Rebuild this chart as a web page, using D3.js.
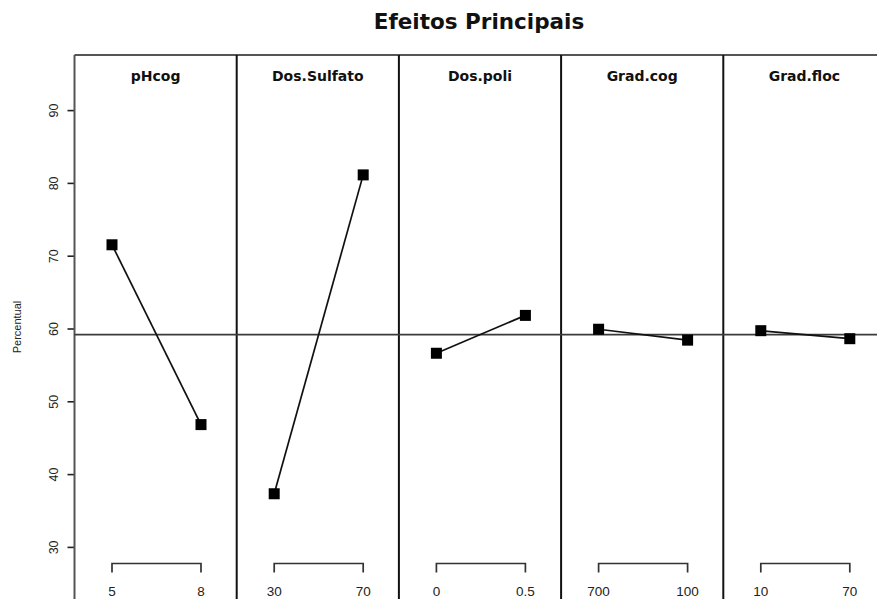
<!DOCTYPE html>
<html>
<head>
<meta charset="utf-8">
<script src="https://cdn.jsdelivr.net/npm/d3@7"></script>
<style>
  html, body { margin: 0; padding: 0; background: #fff; }
  svg { display: block; font-family: "Liberation Sans", Arial, sans-serif; }
</style>
</head>
<body>
<svg id="chart" width="877" height="599"></svg>
<script>
// ---- data ----
const factors = ["pHcog", "Dos.Sulfato", "Dos.poli", "Grad.cog", "Grad.floc"];
const levelLabels = [["5", "8"], ["30", "70"], ["0", "0.5"], ["700", "100"], ["10", "70"]];
const lowValues  = [71.5, 37.3, 56.6, 59.9, 59.7];
const highValues = [46.8, 81.1, 61.8, 58.4, 58.6];
const yTicks = [30, 40, 50, 60, 70, 80, 90];
const chartTitle = "Efeitos Principais";
const yTitle = "Percentual";

// ---- layout ----
const W = 877, H = 599;
const plotLeft = 74.5, plotTop = 55, panelW = 162.2;
const svg = d3.select("#chart");

const allVals = lowValues.concat(highValues);
const grandMean = d3.mean(allVals);

const y = d3.scaleLinear().domain([30, 90]).range([546.9, 110.1]);
const px = d3.scaleBand().domain(factors).range([plotLeft, plotLeft + panelW * factors.length]);
const lx = d3.scalePoint().domain([0, 1]).range([37.5, 126.5]);

// title
svg.append("text")
  .attr("x", 479).attr("y", 29)
  .attr("text-anchor", "middle")
  .attr("font-family", "DejaVu Sans, sans-serif")
  .attr("font-size", 21.5).attr("font-weight", "bold")
  .attr("fill", "#111")
  .text(chartTitle);

// y axis
const yAxis = d3.axisLeft(y).tickValues(yTicks).tickSize(7).tickFormat(d3.format("d"));
const ga = svg.append("g").attr("transform", `translate(${plotLeft},0)`).call(yAxis);
ga.select(".domain").remove();
ga.selectAll(".tick line").attr("stroke", "#222").attr("stroke-width", 1.6);
ga.selectAll(".tick text")
  .attr("font-size", 12.5).attr("fill", "#222")
  .attr("transform", "rotate(-90)")
  .attr("x", 0).attr("y", -21).attr("dy", "0.35em")
  .attr("text-anchor", "middle")
  .attr("font-family", "Liberation Sans, Arial, sans-serif");

svg.append("text")
  .attr("transform", `translate(21,327) rotate(-90)`)
  .attr("text-anchor", "middle")
  .attr("font-size", 11).attr("fill", "#222")
  .text(yTitle);

// panel frame
svg.append("line").attr("x1", plotLeft).attr("x2", W + 10).attr("y1", plotTop).attr("y2", plotTop)
  .attr("stroke", "#555").attr("stroke-width", 2);
svg.append("line").attr("x1", plotLeft).attr("x2", plotLeft).attr("y1", plotTop).attr("y2", H + 5)
  .attr("stroke", "#555").attr("stroke-width", 2);
factors.slice(1).forEach(f => {
  svg.append("line").attr("x1", px(f)).attr("x2", px(f)).attr("y1", plotTop).attr("y2", H + 5)
    .attr("stroke", "#111").attr("stroke-width", 2);
});

// mean line
svg.append("line").attr("x1", plotLeft).attr("x2", W + 10)
  .attr("y1", y(grandMean)).attr("y2", y(grandMean))
  .attr("stroke", "#3a3a3a").attr("stroke-width", 1.8);

// panels
factors.forEach((f, i) => {
  const g = svg.append("g").attr("transform", `translate(${px(f)},0)`);
  g.append("text")
    .attr("x", panelW / 2).attr("y", 81)
    .attr("text-anchor", "middle")
    .attr("font-family", "DejaVu Sans, sans-serif")
    .attr("font-size", 14).attr("font-weight", "bold")
    .attr("fill", "#111")
    .text(f);

  const pts = [[0, lowValues[i]], [1, highValues[i]]];
  g.append("path")
    .attr("d", d3.line().x(d => lx(d[0])).y(d => y(d[1]))(pts))
    .attr("fill", "none").attr("stroke", "#111").attr("stroke-width", 1.7);
  g.selectAll("rect.pt").data(pts).join("rect")
    .attr("class", "pt")
    .attr("x", d => lx(d[0]) - 5.5).attr("y", d => y(d[1]) - 5.5)
    .attr("width", 11).attr("height", 11)
    .attr("fill", "#000");

  // bracket axis
  const by = 563.5;
  g.append("path")
    .attr("d", `M${lx(0)},${by + 9}V${by}H${lx(1)}V${by + 9}`)
    .attr("fill", "none").attr("stroke", "#333").attr("stroke-width", 1.7);
  g.selectAll("text.lvl").data(levelLabels[i]).join("text")
    .attr("class", "lvl")
    .attr("x", (d, j) => lx(j)).attr("y", 596)
    .attr("text-anchor", "middle")
    .attr("font-size", 13.5).attr("fill", "#222")
    .text(d => d);
});
</script>
</body>
</html>
